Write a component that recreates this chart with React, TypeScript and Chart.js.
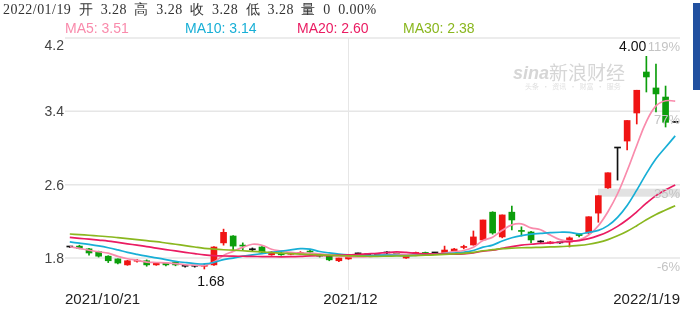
import { useEffect, useRef } from 'react';
import { Chart, registerables } from 'chart.js';

Chart.register(...registerables);

const categories = [
  '2021/10/21', '2021/10/22', '2021/10/25', '2021/10/26', '2021/10/27', '2021/10/28', '2021/10/29',
  '2021/11/01', '2021/11/02', '2021/11/03', '2021/11/04', '2021/11/05',
  '2021/11/08', '2021/11/09', '2021/11/10', '2021/11/11', '2021/11/12',
  '2021/11/15', '2021/11/16', '2021/11/17', '2021/11/18', '2021/11/19',
  '2021/11/22', '2021/11/23', '2021/11/24', '2021/11/25', '2021/11/26',
  '2021/11/29', '2021/11/30',
  '2021/12/01', '2021/12/02', '2021/12/03',
  '2021/12/06', '2021/12/07', '2021/12/08', '2021/12/09', '2021/12/10',
  '2021/12/13', '2021/12/14', '2021/12/15', '2021/12/16', '2021/12/17',
  '2021/12/20', '2021/12/21', '2021/12/22', '2021/12/23', '2021/12/24',
  '2021/12/27', '2021/12/28', '2021/12/29', '2021/12/30', '2021/12/31',
  '2022/01/04', '2022/01/05', '2022/01/06', '2022/01/07',
  '2022/01/10', '2022/01/11', '2022/01/12', '2022/01/13', '2022/01/14',
  '2022/01/17', '2022/01/18', '2022/01/19',
];

const opens = [
  1.92, 1.93, 1.90, 1.87, 1.82, 1.79, 1.725, 1.765, 1.77, 1.725,
  1.745, 1.755, 1.71, 1.71, 1.71, 1.725, 1.965, 2.04, 1.94, 1.89,
  1.92, 1.835, 1.855, 1.84, 1.85, 1.87, 1.825, 1.82, 1.77, 1.79,
  1.845, 1.835, 1.82, 1.855, 1.85, 1.80, 1.85, 1.86, 1.855, 1.855,
  1.875, 1.915, 1.942, 1.997, 2.30, 2.03, 2.30, 2.095, 2.084, 1.975,
  1.96, 1.965, 1.975, 2.06, 2.073, 2.29, 2.565, 3.00, 3.076, 3.382,
  3.829, 3.655, 3.556, 3.28,
];
const highs = [
  1.925, 1.94, 1.905, 1.875, 1.825, 1.79, 1.775, 1.785, 1.78, 1.75,
  1.75, 1.76, 1.715, 1.715, 1.73, 1.925, 2.115, 2.045, 1.965, 1.91,
  1.925, 1.87, 1.86, 1.86, 1.87, 1.885, 1.835, 1.825, 1.80, 1.815,
  1.855, 1.84, 1.845, 1.87, 1.855, 1.825, 1.865, 1.865, 1.86, 1.93,
  1.905, 1.94, 2.095, 2.215, 2.305, 2.27, 2.367, 2.14, 2.09, 1.99,
  1.98, 1.97, 2.03, 2.07, 2.25, 2.48, 2.73, 3.00, 3.30, 3.63,
  4.00, 3.916, 3.676, 3.28,
];
const lows = [
  1.915, 1.90, 1.83, 1.81, 1.75, 1.735, 1.72, 1.755, 1.71, 1.72,
  1.715, 1.715, 1.70, 1.70, 1.68, 1.72, 1.94, 1.885, 1.885, 1.87,
  1.85, 1.83, 1.83, 1.835, 1.84, 1.855, 1.81, 1.77, 1.76, 1.785,
  1.84, 1.83, 1.815, 1.84, 1.835, 1.795, 1.845, 1.845, 1.85, 1.855,
  1.87, 1.90, 1.94, 1.99, 2.06, 2.02, 2.106, 2.04, 1.964, 1.97,
  1.955, 1.96, 1.92, 2.03, 2.06, 2.19, 2.56, 2.65, 2.978, 3.262,
  3.611, 3.393, 3.229, 3.28,
];
const closes = [
  1.92, 1.905, 1.855, 1.82, 1.77, 1.745, 1.77, 1.77, 1.725, 1.745,
  1.725, 1.725, 1.71, 1.71, 1.72, 1.92, 2.08, 1.93, 1.93, 1.89,
  1.865, 1.865, 1.835, 1.85, 1.855, 1.865, 1.82, 1.78, 1.80, 1.81,
  1.845, 1.835, 1.84, 1.855, 1.84, 1.82, 1.86, 1.85, 1.855, 1.887,
  1.898, 1.92, 2.03, 2.215, 2.073, 2.27, 2.215, 2.09, 1.997, 1.975,
  1.975, 1.965, 2.02, 2.045, 2.25, 2.48, 2.73, 3.00, 3.30, 3.63,
  3.775, 3.59, 3.28, 3.28,
];

const ma5 = [
  1.923, 1.905, 1.885, 1.868, 1.853, 1.818, 1.792, 1.775, 1.756, 1.751,
  1.747, 1.738, 1.726, 1.723, 1.718, 1.757, 1.828, 1.872, 1.916, 1.950,
  1.939, 1.896, 1.877, 1.861, 1.854, 1.854, 1.845, 1.834, 1.824, 1.815,
  1.811, 1.814, 1.826, 1.837, 1.843, 1.838, 1.843, 1.845, 1.845, 1.854,
  1.870, 1.882, 1.918, 1.990, 2.027, 2.102, 2.161, 2.173, 2.129, 2.109,
  2.050, 2.000, 1.986, 1.996, 2.051, 2.152, 2.305, 2.501, 2.752, 3.028,
  3.287, 3.459, 3.515, 3.511,
];
const ma10 = [
  1.975, 1.962, 1.948, 1.932, 1.912, 1.888, 1.862, 1.840, 1.820, 1.802,
  1.783, 1.765, 1.751, 1.740, 1.735, 1.752, 1.783, 1.799, 1.820, 1.834,
  1.848, 1.862, 1.875, 1.889, 1.902, 1.897, 1.871, 1.856, 1.843, 1.835,
  1.833, 1.830, 1.830, 1.831, 1.829, 1.825, 1.829, 1.836, 1.841, 1.849,
  1.854, 1.863, 1.882, 1.918, 1.941, 1.986, 2.021, 2.045, 2.060, 2.068,
  2.076, 2.081, 2.080, 2.063, 2.080, 2.101, 2.153, 2.244, 2.374, 2.540,
  2.720, 2.882, 3.008, 3.132,
];
const ma20 = [
  2.025, 2.015, 2.005, 1.995, 1.985, 1.970, 1.955, 1.940, 1.925, 1.908,
  1.892, 1.877, 1.862, 1.848, 1.835, 1.826, 1.822, 1.820, 1.819, 1.818,
  1.815, 1.814, 1.813, 1.814, 1.818, 1.824, 1.827, 1.827, 1.831, 1.834,
  1.840, 1.846, 1.852, 1.860, 1.866, 1.861, 1.850, 1.846, 1.842, 1.842,
  1.843, 1.846, 1.856, 1.874, 1.885, 1.905, 1.925, 1.940, 1.950, 1.959,
  1.965, 1.972, 1.981, 1.990, 2.011, 2.044, 2.087, 2.145, 2.217, 2.304,
  2.398, 2.481, 2.544, 2.597,
];
const ma30 = [
  2.062, 2.055, 2.048, 2.040, 2.032, 2.022, 2.011, 2.000, 1.989, 1.978,
  1.964, 1.950, 1.935, 1.920, 1.906, 1.897, 1.890, 1.885, 1.879, 1.872,
  1.866, 1.860, 1.853, 1.848, 1.843, 1.838, 1.834, 1.830, 1.826, 1.824,
  1.821, 1.819, 1.818, 1.820, 1.822, 1.824, 1.827, 1.830, 1.834, 1.839,
  1.845, 1.851, 1.862, 1.879, 1.891, 1.902, 1.907, 1.912, 1.914, 1.917,
  1.921, 1.924, 1.930, 1.937, 1.950, 1.971, 2.001, 2.042, 2.092, 2.152,
  2.217, 2.275, 2.323, 2.371,
];

const yTicks = [1.8, 2.6, 3.4, 4.2];
const yTickLabels = ['1.8', '2.6', '3.4', '4.2'];
const pctLabels = ['-6%', '35%', '77%', '119%'];
const xTickIndex = [0, 29, 63];
const xTickLabels = ['2021/10/21', '2021/12', '2022/1/19'];

const headerText = '2022/01/19 开 3.28 高 3.28 收 3.28 低 3.28 量 0 0.00%';
const legendItems = [
  { label: 'MA5: 3.51', color: '#f98bac', left: 65 },
  { label: 'MA10: 3.14', color: '#18afd6', left: 185 },
  { label: 'MA20: 2.60', color: '#ea1c62', left: 297 },
  { label: 'MA30: 2.38', color: '#8ab71f', left: 403 },
];

const RED = '#f01414';
const GREEN = '#0c9e0c';
const BLACK = '#111111';
const SANS = '"Liberation Sans", Arial, sans-serif';

export default function App() {
  const ref = useRef<HTMLCanvasElement>(null);

  useEffect(() => {
    const canvas = ref.current;
    if (!canvas) return;
    const candleColors = closes.map((c, i) => (c > opens[i] ? RED : c < opens[i] ? GREEN : BLACK));

    const deco = {
      id: 'deco',
      beforeDatasetsDraw(chart: any) {
        const { ctx, chartArea: a, scales } = chart;
        const x = scales.x;
        const y = scales.y;
        ctx.save();
        ctx.strokeStyle = '#e6e6e6';
        ctx.lineWidth = 1.5;
        yTicks.forEach((v) => {
          const py = y.getPixelForValue(v);
          ctx.beginPath();
          ctx.moveTo(a.left, py);
          ctx.lineTo(a.right, py);
          ctx.stroke();
        });
        ctx.lineWidth = 1;
        ctx.strokeStyle = '#e6e6e6';
        const vx = Math.round(x.getPixelForValue(xTickIndex[1])) + 0.5;
        ctx.beginPath();
        ctx.moveTo(vx, y.getPixelForValue(yTicks[3]));
        ctx.lineTo(vx, a.bottom);
        ctx.stroke();
        ctx.fillStyle = '#e2e2e2';
        const by = y.getPixelForValue(yTicks[1]);
        ctx.fillRect(a.right - 82, by + 4, 82, 8);
        ctx.fillStyle = '#d6d6d6';
        ctx.textBaseline = 'middle';
        ctx.textAlign = 'left';
        ctx.font = 'italic bold 18px ' + SANS;
        ctx.fillText('sina', 513, 74);
        ctx.font = '19px "Noto Sans CJK SC", sans-serif';
        ctx.fillText('新浪财经', 549, 73);
        ctx.fillStyle = '#e0e0e0';
        ctx.font = '7px "Noto Sans CJK SC", sans-serif';
        ctx.fillText('头条  ·  资讯  ·  财富  ·  服务', 525, 86);
        ctx.restore();
      },
      afterDatasetsDraw(chart: any) {
        const { ctx, chartArea: a, scales } = chart;
        const x = scales.x;
        const y = scales.y;
        ctx.save();
        ctx.fillStyle = '#444444';
        ctx.font = '14px ' + SANS;
        ctx.textAlign = 'right';
        ctx.textBaseline = 'middle';
        yTicks.forEach((v, i) => {
          let py = y.getPixelForValue(v);
          if (i === yTicks.length - 1) py += 7;
          ctx.fillText(yTickLabels[i], a.left - 1, py + 1);
        });
        ctx.fillStyle = '#c4c4c4';
        ctx.font = '13px ' + SANS;
        ctx.textBaseline = 'top';
        yTicks.forEach((v, i) => {
          const py = y.getPixelForValue(v);
          ctx.fillText(pctLabels[i], a.right, py + 3);
        });
        ctx.fillStyle = '#222222';
        ctx.font = '15px ' + SANS;
        ctx.textBaseline = 'middle';
        xTickIndex.forEach((idx, i) => {
          const px = x.getPixelForValue(idx);
          if (i === 0) {
            ctx.textAlign = 'left';
            ctx.fillText(xTickLabels[i], a.left, 300);
          } else if (i === xTickIndex.length - 1) {
            ctx.textAlign = 'right';
            ctx.fillText(xTickLabels[i], a.right, 300);
          } else {
            ctx.textAlign = 'center';
            ctx.fillText(xTickLabels[i], px + 2, 300);
          }
        });
        let hi = 0;
        let lo = 0;
        highs.forEach((h, i) => { if (h > highs[hi]) hi = i; });
        lows.forEach((l, i) => { if (l < lows[lo]) lo = i; });
        ctx.fillStyle = '#111111';
        ctx.font = '14px ' + SANS;
        ctx.textAlign = 'right';
        ctx.fillText(highs[hi].toFixed(2), x.getPixelForValue(hi), y.getPixelForValue(highs[hi]) - 9);
        ctx.textAlign = 'left';
        ctx.fillText(lows[lo].toFixed(2), x.getPixelForValue(lo) - 7, y.getPixelForValue(lows[lo]) + 13);
        ctx.restore();
      },
    };

    const lineDs = (data: number[], color: string) => ({
      type: 'line' as const,
      data,
      borderColor: color,
      borderWidth: 1.7,
      pointRadius: 0,
      tension: 0.4,
      fill: false,
      order: 0,
    });

    const chart = new Chart(canvas, {
      type: 'bar',
      data: {
        labels: categories,
        datasets: [
          lineDs(ma30, legendItems[3].color),
          lineDs(ma20, legendItems[2].color),
          lineDs(ma10, legendItems[1].color),
          lineDs(ma5, legendItems[0].color),
          {
            type: 'bar',
            data: opens.map((o, i) => [o, closes[i]]) as any,
            backgroundColor: candleColors,
            borderWidth: 0,
            barThickness: 6,
            minBarLength: 1,
            grouped: false,
            order: 1,
          } as any,
          {
            type: 'bar',
            data: lows.map((l, i) => [l, highs[i]]) as any,
            backgroundColor: candleColors,
            borderWidth: 0,
            barThickness: 1,
            minBarLength: 1,
            grouped: false,
            order: 2,
          } as any,
        ],
      },
      options: {
        responsive: false,
        animation: false,
        events: [],
        layout: { padding: { left: 65, right: 20, top: 30, bottom: 24 } },
        plugins: { legend: { display: false }, tooltip: { enabled: false } },
        scales: {
          x: { type: 'category', display: false, offset: true, grid: { display: false } },
          y: { type: 'linear', display: false, min: 1.451, max: 4.2873 },
        },
      },
      plugins: [deco],
    });
    return () => chart.destroy();
  }, []);

  return (
    <div style={{ position: 'absolute', left: 0, top: 0, width: 700, height: 314, background: '#fff', overflow: 'hidden' }}>
      <canvas ref={ref} width={700} height={314} style={{ position: 'absolute', left: 0, top: 0 }} />
      <div
        style={{
          position: 'absolute', left: 3, top: 2, font: '14px "Liberation Serif", serif', lineHeight: '16px',
          color: '#333', whiteSpace: 'nowrap', wordSpacing: '3.5px', letterSpacing: '0.45px',
        }}
      >
        {headerText}
      </div>
      {legendItems.map((it) => (
        <div
          key={it.label}
          style={{ position: 'absolute', left: it.left, top: 20, font: '14px ' + SANS, lineHeight: '16px', color: it.color, whiteSpace: 'nowrap' }}
        >
          {it.label}
        </div>
      ))}
      <div style={{ position: 'absolute', left: 693, top: 3, width: 7, height: 87, background: '#2150a0' }} />
    </div>
  );
}
